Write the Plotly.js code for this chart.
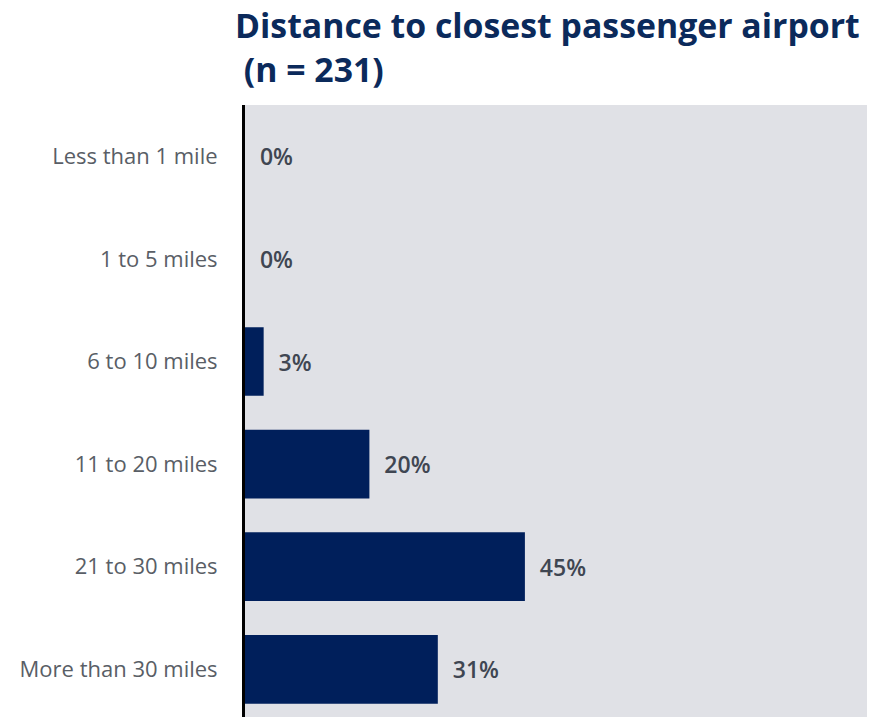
<!DOCTYPE html>
<html>
<head>
<meta charset="utf-8">
<script src="https://cdn.plot.ly/plotly-3.0.1.min.js"></script>
<style>html,body{margin:0;padding:0;background:#fff;}#chart{width:881px;height:717px;}</style>
</head>
<body>
<div id="chart"></div>
<script>
const categories = ["Less than 1 mile", "1 to 5 miles", "6 to 10 miles", "11 to 20 miles", "21 to 30 miles", "More than 30 miles"];
const percents = [0, 0, 3, 20, 45, 31];
const titleText = "Distance to closest passenger airport<br> (n = 231)";

const trace = {
  type: "bar",
  orientation: "h",
  y: categories,
  x: percents,
  width: 0.67,
  marker: {color: "#001f5b"},
  text: percents.map(v => "\u00a0\u00a0" + v + "%"),
  textposition: "outside",
  textfont: {family: "Open Sans, sans-serif", size: 23, color: "#3f4652", weight: 600},
  cliponaxis: false,
  hoverinfo: "none"
};

const layout = {
  width: 881,
  height: 717,
  margin: {l: 245, r: 14, t: 105, b: 0, pad: 0},
  paper_bgcolor: "#ffffff",
  plot_bgcolor: "#e0e1e6",
  showlegend: false,
  bargap: 0.33,
  title: {
    text: titleText,
    font: {family: "Open Sans, sans-serif", size: 33.8, color: "#0b2a5b", weight: 700},
    xref: "container", yref: "container",
    x: 235/881, xanchor: "left",
    y: 1 - 38/717, yanchor: "top"
  },
  xaxis: {
    range: [0, 100],
    showgrid: false, zeroline: false, showticklabels: false, showline: false, fixedrange: true
  },
  yaxis: {
    type: "category",
    range: [5.465, -0.5],
    showgrid: false, zeroline: false,
    showline: true, linecolor: "#000000", linewidth: 3,
    ticks: "outside", ticklen: 20, tickcolor: "rgba(0,0,0,0)",
    tickfont: {family: "Open Sans, sans-serif", size: 22, color: "#595e66"},
    fixedrange: true
  }
};

Plotly.newPlot("chart", [trace], layout, {displayModeBar: false, staticPlot: true});
</script>
</body>
</html>
